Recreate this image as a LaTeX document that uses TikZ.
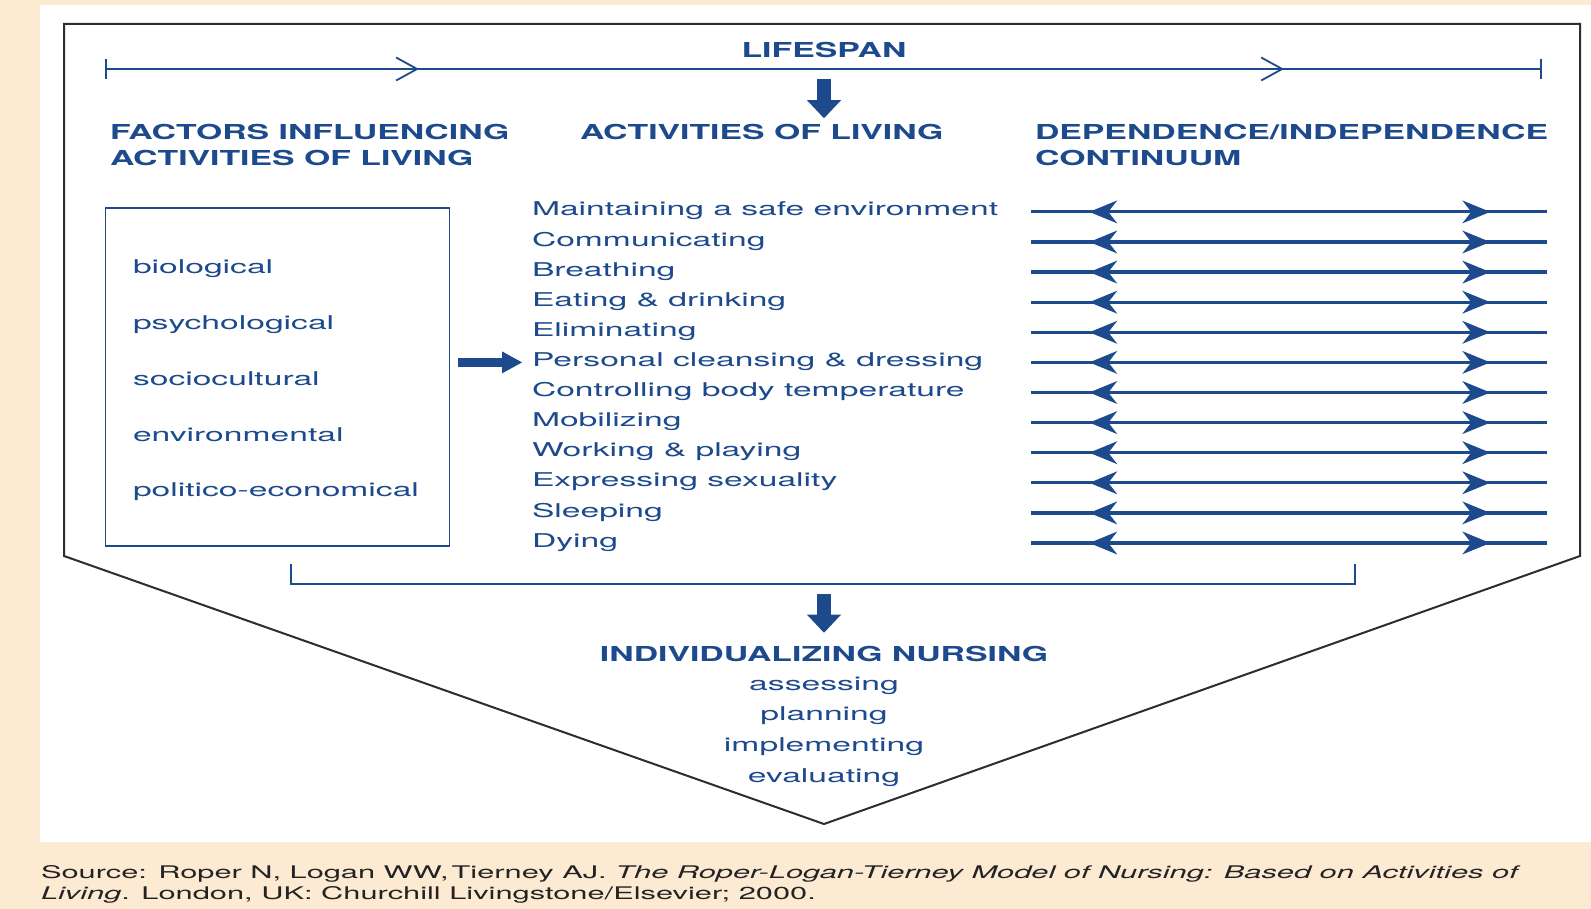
\documentclass[tikz,border=0pt]{standalone}
\usepackage{fontspec}
\usetikzlibrary{positioning}
\usetikzlibrary{arrows.meta}
\usetikzlibrary{decorations.markings}
\newfontfamily\ropfont{TeX Gyre Heros}[FakeStretch=1.77]
\newfontfamily\ropheadfont{TeX Gyre Heros}[FakeStretch=1.64]
\definecolor{ropblue}{RGB}{28,74,140}
\definecolor{roppeach}{RGB}{253,234,210}
\definecolor{ropframe}{RGB}{45,45,45}
\definecolor{ropsource}{RGB}{35,35,35}
\newcommand{\AoL}{ACTIVITIES OF LIVING}
\newcommand{\RLT}{The Roper-Logan-Tierney Model of Nursing: Based on Activities of}
\tikzstyle{head} = [font=\ropheadfont\bfseries\fontsize{10.3}{13}\selectfont, text=ropblue, inner sep=0pt, outer sep=0pt, align=left]
\tikzstyle{act} = [font=\ropfont\fontsize{9.5}{15}\selectfont, text=ropblue, inner sep=0pt, outer sep=0pt, text height=6.6pt, text depth=2.5pt, node distance=5.95pt]
\tikzstyle{factor} = [act, node distance=18.75pt]
\tikzstyle{nurse} = [act, node distance=6.3pt]
\tikzstyle{src} = [font=\ropfont\fontsize{8.7}{10.5}\selectfont, text=ropsource, inner sep=0pt, outer sep=0pt, text height=6.2pt, text depth=2.2pt, node distance=2.1pt]
\tikzstyle{fbox} = [draw=ropblue, line width=0.75pt, minimum width=172pt, minimum height=169pt, inner sep=0pt]
\tikzstyle{frame} = [draw=ropframe, line width=1pt, line join=miter]
\tikzstyle{brk} = [draw=ropblue, line width=0.8pt]
\tikzstyle{life} = [draw=ropblue, line width=0.9pt, {Bar[width=10pt]}-{Bar[width=10pt]}, postaction={decorate}, decoration={markings, mark=at position 0.2185 with {\arrow{Straight Barb[length=10.5pt,width=11.5pt]}}, mark=at position 0.8205 with {\arrow{Straight Barb[length=10.5pt,width=11.5pt]}}}]
\tikzstyle{cont} = [draw=ropblue, line width=1.6pt, postaction={decorate}, decoration={markings, mark=at position 0.113 with {\arrowreversed{Stealth[length=14pt,width=11.5pt,inset=4.5pt,line width=0pt]}}, mark=at position 0.89 with {\arrow{Stealth[length=14pt,width=11.5pt,inset=4.5pt,line width=0pt]}}}]
\tikzstyle{fat} = [draw=ropblue, line width=7pt, -{Triangle[length=9pt,width=17pt,line width=0pt]}]
\tikzstyle{fatthin} = [draw=ropblue, line width=4.5pt, -{Triangle[length=10pt,width=11pt,line width=0pt]}]

\begin{document}
\begin{tikzpicture}[x=0.5pt, y=-0.5pt]
%\draw [help lines] (0,0) grid (1591,909);

% Background
\useasboundingbox (0,0) rectangle (1591,909);
\fill[roppeach] (0,0) rectangle (1591,909);
\fill[white]    (40,5) rectangle (1591,842);
\draw[frame] (64,24) -- (1580,24) -- (1580,556) -- (824,824) -- (64,556) -- cycle;

% Define nodes
\node[head, anchor=base]        (life) at (824,58)   {LIFESPAN};
\node[head, anchor=north west]  (fac)  at (110,124)  {FACTORS INFLUENCING\\\AoL};
\node[head, anchor=north west]  (aol)  at (580,124)  {\AoL};
\node[head, anchor=north west]  (dep)  at (1035,124) {DEPENDENCE/INDEPENDENCE\\CONTINUUM};

\node[fbox]                                                  (box) at (277.5,377) {};
\node[factor, anchor=base west]                              (f1) at (133,274) {biological};
\node[factor, below = of f1.south west, anchor = north west] (f2) {psychological};
\node[factor, below = of f2.south west, anchor = north west] (f3) {sociocultural};
\node[factor, below = of f3.south west, anchor = north west] (f4) {environmental};
\node[factor, below = of f4.south west, anchor = north west] (f5) {politico-economical};

\node[act, anchor=base west]                               (a1) at (532,216) {Maintaining a safe environment};
\node[act, below = of a1.south west, anchor = north west]  (a2) {Communicating};
\node[act, below = of a2.south west, anchor = north west]  (a3) {Breathing};
\node[act, below = of a3.south west, anchor = north west]  (a4) {Eating \& drinking};
\node[act, below = of a4.south west, anchor = north west]  (a5) {Eliminating};
\node[act, below = of a5.south west, anchor = north west]  (a6) {Personal cleansing \& dressing};
\node[act, below = of a6.south west, anchor = north west]  (a7) {Controlling body temperature};
\node[act, below = of a7.south west, anchor = north west]  (a8) {Mobilizing};
\node[act, below = of a8.south west, anchor = north west]  (a9) {Working \& playing};
\node[act, below = of a9.south west, anchor = north west]  (a10) {Expressing sexuality};
\node[act, below = of a10.south west, anchor = north west] (a11) {Sleeping};
\node[act, below = of a11.south west, anchor = north west] (a12) {Dying};

\node[head, anchor=base]        (inn) at (824,661.5) {INDIVIDUALIZING NURSING};
\node[nurse, anchor=base]       (n1)  at (824,690)   {assessing};
\node[nurse, below = of n1]     (n2)  {planning};
\node[nurse, below = of n2]     (n3)  {implementing};
\node[nurse, below = of n3]     (n4)  {evaluating};

\node[src, anchor=base west]                               (s1) at (41,878) {Source: Roper N, Logan WW,\thinspace Tierney AJ. \textit{\RLT}};
\node[src, below = of s1.south west, anchor = north west]  (s2) {\textit{Living}. London, UK: Churchill Livingstone/Elsevier; 2000.};

\coordinate (lsl) at (105,69);
\coordinate (lsr) at (1542,69);
\coordinate (cl)  at (1031,0);
\coordinate (cr)  at (1547,0);
\coordinate (brl) at (291,564);
\coordinate (brr) at (1355,564);
\coordinate (brm) at (824,584);

% Edges
\draw[life] (lsl) -- (lsr);
\draw[fat] ([yshift=-10.5pt]life.south) -- ([yshift=-30pt]life.south);
\draw[fatthin] ([xshift=3.75pt]box.east |- a6) -- ([xshift=-5pt]a6.west);
\draw[cont] (a1 -| cl)  -- (a1 -| cr);
\draw[cont] (a2 -| cl)  -- (a2 -| cr);
\draw[cont] (a3 -| cl)  -- (a3 -| cr);
\draw[cont] (a4 -| cl)  -- (a4 -| cr);
\draw[cont] (a5 -| cl)  -- (a5 -| cr);
\draw[cont] (a6 -| cl)  -- (a6 -| cr);
\draw[cont] (a7 -| cl)  -- (a7 -| cr);
\draw[cont] (a8 -| cl)  -- (a8 -| cr);
\draw[cont] (a9 -| cl)  -- (a9 -| cr);
\draw[cont] (a10 -| cl) -- (a10 -| cr);
\draw[cont] (a11 -| cl) -- (a11 -| cr);
\draw[cont] (a12 -| cl) -- (a12 -| cr);
\draw[brk] (brl) |- (brm) -| (brr);
\draw[fat] ([yshift=-5pt]brm) -- ([yshift=6.75pt]inn.north);
\end{tikzpicture}
\end{document}
